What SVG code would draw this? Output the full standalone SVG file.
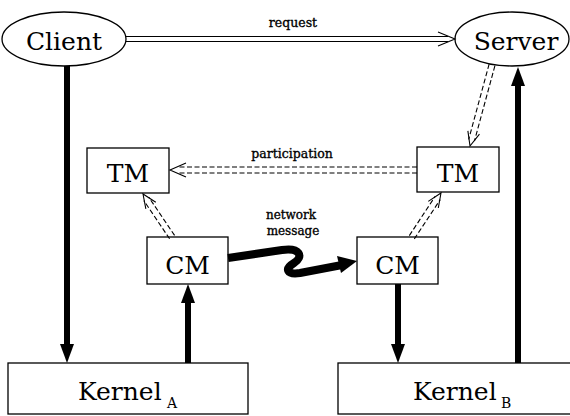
<svg xmlns="http://www.w3.org/2000/svg" width="570" height="416" viewBox="0 0 570 416">
<style>
.shape{fill:#fff;stroke:#000;stroke-width:1.3}
.big{font-family:"DejaVu Serif","Liberation Serif",serif;font-size:25px;fill:#000;text-anchor:middle}
.lbl{font-family:"DejaVu Serif","Liberation Serif",serif;font-size:12.5px;fill:#000;stroke:#000;stroke-width:0.35;text-anchor:middle}
.sub{font-family:"DejaVu Serif","Liberation Serif",serif;font-size:14px;fill:#000}
.dbl{fill:none;stroke:#000;stroke-width:1.1}
.dash{stroke-dasharray:5 2.5}
.thick{stroke:#000;stroke-width:6;fill:none}
.head{fill:#000;stroke:none}
</style>
<rect width="570" height="416" fill="#fff"/>
<g id="client"><ellipse class="shape" cx="64" cy="39" rx="62" ry="27"/><text class="big" x="64" y="50">Client</text></g>
<g id="server"><ellipse class="shape" cx="512" cy="39" rx="57" ry="27"/><text class="big" x="516" y="50">Server</text></g>
<g id="tmA"><rect class="shape" x="87" y="148" width="82" height="45"/><text class="big" x="128" y="182">TM</text></g>
<g id="tmB"><rect class="shape" x="417" y="147" width="82" height="45"/><text class="big" x="458" y="182">TM</text></g>
<g id="cmA"><rect class="shape" x="147" y="237" width="81" height="47"/><text class="big" x="187.5" y="274">CM</text></g>
<g id="cmB"><rect class="shape" x="357" y="237" width="81" height="47"/><text class="big" x="397.5" y="274">CM</text></g>
<g id="kernelA"><rect class="shape" x="8" y="363" width="240" height="51"/><text class="big" x="78" y="400" style="text-anchor:start">Kernel</text><text class="sub" x="167" y="408">A</text></g>
<g id="kernelB"><rect class="shape" x="338" y="363" width="240" height="51"/><text class="big" x="413" y="400" style="text-anchor:start">Kernel</text><text class="sub" x="501" y="408">B</text></g>
<g id="connectors">
  <g transform="translate(455,39)">
    <line class="dbl" x1="-329" y1="-2.5" x2="-7" y2="-2.5"/><line class="dbl" x1="-329" y1="2.5" x2="-7" y2="2.5"/>
    <polyline class="dbl" points="-17,-7 0,0 -17,7"/>
  </g>
  <text class="lbl" x="293" y="27">request</text>
  <g transform="translate(170,170) rotate(180)">
    <line class="dbl dash" x1="-247" y1="-3" x2="-7" y2="-3"/><line class="dbl dash" x1="-247" y1="3" x2="-7" y2="3"/>
    <polyline class="dbl" points="-16,-7 0,0 -16,7"/>
  </g>
  <text class="lbl" x="292" y="158">participation</text>
  <g transform="translate(470,146) rotate(105.2)">
    <line class="dbl dash" x1="-84" y1="-3" x2="-6" y2="-3"/><line class="dbl dash" x1="-84" y1="3" x2="-6" y2="3"/>
    <polyline class="dbl" points="-14,-6 0,0 -14,6"/>
  </g>
  <g transform="translate(143,194) rotate(-124)">
    <line class="dbl dash" x1="-52" y1="-3" x2="-6" y2="-3"/><line class="dbl dash" x1="-52" y1="3" x2="-6" y2="3"/>
    <polyline class="dbl" points="-14,-6 0,0 -14,6"/>
  </g>
  <g transform="translate(441,193) rotate(-56.6)">
    <line class="dbl dash" x1="-53" y1="-3" x2="-6" y2="-3"/><line class="dbl dash" x1="-53" y1="3" x2="-6" y2="3"/>
    <polyline class="dbl" points="-14,-6 0,0 -14,6"/>
  </g>
  <line class="thick" x1="67" y1="66" x2="67" y2="346"/><polygon class="head" points="60,344 74,344 67,363"/>
  <line class="thick" x1="518" y1="363" x2="518" y2="84"/><polygon class="head" points="511,86 525,86 518,67"/>
  <line class="thick" x1="188" y1="363" x2="188" y2="301"/><polygon class="head" points="181,303 195,303 188,284"/>
  <line class="thick" x1="398" y1="284" x2="398" y2="346"/><polygon class="head" points="391,344 405,344 398,363"/>
  <path d="M228 258 L282 250 C300 247 304 257 294 263 C284 269 287 275 300 273 L342 265" style="fill:none;stroke:#000;stroke-width:8;stroke-linejoin:round"/>
  <polygon class="head" points="357,261 337,256 341,273"/>
  <text class="lbl" x="291" y="219" style="font-size:12px">network</text>
  <text class="lbl" x="293" y="235" style="font-size:12px">message</text>
</g>
</svg>
